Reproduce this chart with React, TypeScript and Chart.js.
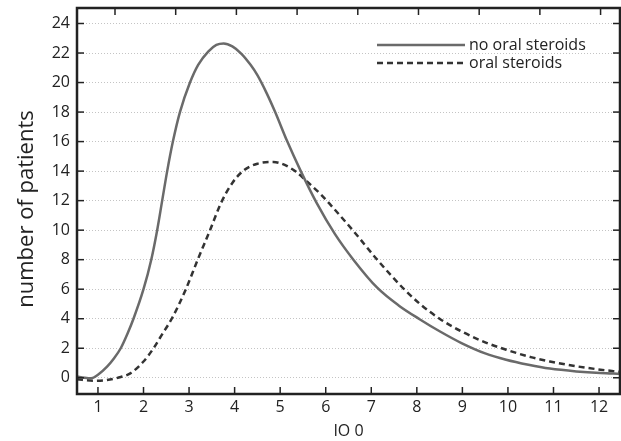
import { useEffect, useRef } from "react";
import { Chart, registerables } from "chart.js";

Chart.register(...registerables);

// ---- data ----
const seriesLabels = ["no oral steroids", "oral steroids"];
const xTitle = "IO 0";
const yTitle = "number of patients";

const xNoSteroids = [0.54, 0.7, 0.85, 1.0, 1.2, 1.35, 1.5, 1.65, 1.78, 2.0, 2.17, 2.3, 2.41, 2.52, 2.645, 2.8, 3.02, 3.2, 3.42, 3.6, 3.76, 3.95, 4.15, 4.35, 4.5, 4.7, 4.89, 5.15, 5.46, 5.8, 6.2, 6.62, 7.13, 7.6, 8.07, 8.5, 8.98, 9.5, 9.96, 10.45, 10.92, 11.5, 12.03, 12.46];
const yNoSteroids = [0.08, 0.0, -0.04, 0.2, 0.75, 1.3, 2.0, 3.0, 4.0, 6.0, 8.0, 10.0, 12.0, 14.0, 16.0, 18.0, 20.0, 21.2, 22.1, 22.55, 22.65, 22.45, 21.95, 21.2, 20.5, 19.3, 18.0, 16.05, 13.95, 11.85, 9.75, 7.95, 6.1, 4.9, 3.95, 3.15, 2.35, 1.65, 1.22, 0.88, 0.62, 0.43, 0.32, 0.27];

const xSteroids = [0.54, 0.9, 1.2, 1.5, 1.71, 2.0, 2.22, 2.42, 2.62, 2.93, 3.19, 3.46, 3.71, 3.95, 4.2, 4.5, 4.85, 5.1, 5.35, 5.57, 5.9, 6.11, 6.62, 7.13, 7.72, 8.07, 8.5, 8.98, 9.5, 9.96, 10.5, 10.92, 11.5, 12.03, 12.46];
const ySteroids = [-0.1, -0.2, -0.15, 0.05, 0.3, 1.1, 2.0, 3.0, 4.0, 6.0, 8.0, 10.0, 11.9, 13.2, 14.05, 14.5, 14.62, 14.42, 13.95, 13.35, 12.4, 11.7, 9.9, 8.0, 6.0, 5.0, 4.0, 3.14, 2.4, 1.9, 1.4, 1.1, 0.78, 0.55, 0.4];

const FONT = "'Open Sans', Lato, sans-serif";
const INK = "#222";

const toPoints = (xs: number[], ys: number[]) => xs.map((x, i) => ({ x, y: ys[i] }));

const framePlugin = {
  id: "frame",
  afterDatasetsDraw(chart: any) {
    const { ctx, chartArea: a, scales } = chart;
    ctx.save();
    const L = 7;
    ctx.strokeStyle = INK;
    ctx.lineWidth = 1.5;
    const seg = (x1: number, y1: number, x2: number, y2: number) => {
      ctx.beginPath();
      ctx.moveTo(x1, y1);
      ctx.lineTo(x2, y2);
      ctx.stroke();
    };
    scales.x.ticks.forEach((t: any) => {
      const px = scales.x.getPixelForValue(t.value);
      seg(px, a.bottom, px, a.bottom - L);
    });
    scales.x2.ticks.forEach((t: any) => {
      const px = scales.x2.getPixelForValue(t.value);
      seg(px, a.top, px, a.top + L);
    });
    scales.y.ticks.forEach((t: any) => {
      const py = scales.y.getPixelForValue(t.value);
      seg(a.left, py, a.left + L, py);
      seg(a.right, py, a.right - L, py);
    });
    ctx.lineWidth = 2.5;
    ctx.strokeRect(a.left, a.top, a.right - a.left, a.bottom - a.top);

    // legend
    const lx0 = a.left + 300;
    const lx1 = a.left + 388;
    const rows = [a.top + 37, a.top + 55];
    ctx.font = `16px ${FONT}`;
    ctx.textBaseline = "middle";
    ctx.textAlign = "left";
    chart.data.datasets.forEach((ds: any, i: number) => {
      const y = rows[i];
      ctx.strokeStyle = ds.borderColor;
      ctx.lineWidth = ds.borderWidth;
      ctx.setLineDash(ds.borderDash || []);
      seg(lx0, y, lx1, y);
      ctx.setLineDash([]);
      ctx.fillStyle = INK;
      ctx.fillText(ds.label, lx1 + 4, y);
    });

    // y axis title
    ctx.translate(33, (a.top + a.bottom) / 2 + 8);
    ctx.rotate(-Math.PI / 2);
    ctx.font = `22px ${FONT}`;
    ctx.textAlign = "center";
    ctx.textBaseline = "alphabetic";
    ctx.fillStyle = INK;
    ctx.fillText(yTitle, 0, 0);
    ctx.restore();
  },
};

export default function App() {
  const ref = useRef<HTMLCanvasElement | null>(null);
  useEffect(() => {
    if (!ref.current) return;
    const chart = new Chart(ref.current, {
      type: "line",
      data: {
        datasets: [
          {
            label: seriesLabels[0],
            data: toPoints(xNoSteroids, yNoSteroids),
            borderColor: "#6a6a6a",
            borderWidth: 2.5,
            pointRadius: 0,
            cubicInterpolationMode: "monotone",
            fill: false,
          },
          {
            label: seriesLabels[1],
            data: toPoints(xSteroids, ySteroids),
            borderColor: "#333333",
            borderWidth: 2.5,
            borderDash: [6, 4],
            pointRadius: 0,
            cubicInterpolationMode: "monotone",
            fill: false,
          },
        ],
      },
      options: {
        animation: false,
        responsive: false,
        devicePixelRatio: 1,
        layout: { padding: { top: 8, right: 1, left: 0, bottom: 0 } },
        plugins: { legend: { display: false }, tooltip: { enabled: false } },
        scales: {
          x: {
            type: "linear",
            position: "bottom",
            min: 0.54,
            max: 12.46,
            afterFit: (s: any) => {
              s.height = 47;
              s.paddingLeft = 0;
              s.paddingRight = 0;
            },
            ticks: {
              stepSize: 1,
              includeBounds: false,
              padding: 4,
              color: INK,
              font: { family: FONT, size: 16 },
            },
            grid: { display: false, drawTicks: false },
            border: { display: false },
            title: {
              display: true,
              text: xTitle,
              color: INK,
              font: { family: FONT, size: 16 },
              padding: { top: 0, bottom: 0 },
            },
          },
          x2: {
            type: "linear",
            position: "top",
            min: -0.626,
            max: 8.32,
            afterFit: (s: any) => {
              s.height = 0;
              s.paddingLeft = 0;
              s.paddingRight = 0;
            },
            ticks: { stepSize: 1, includeBounds: false, display: false },
            grid: { display: false, drawTicks: false },
            border: { display: false },
          },
          y: {
            type: "linear",
            min: -1.1,
            max: 25.05,
            afterFit: (s: any) => {
              s.width = 77;
              s.paddingTop = 0;
              s.paddingBottom = 0;
            },
            ticks: {
              stepSize: 2,
              includeBounds: false,
              padding: 7,
              color: INK,
              font: { family: FONT, size: 16 },
            },
            grid: { color: "#c4c4c4", lineWidth: 1, drawTicks: false },
            border: { display: false, dash: [1, 2] },
            title: { display: false },
          },
        },
      },
      plugins: [framePlugin],
    } as any);
    return () => chart.destroy();
  }, []);
  return (
    <div style={{ position: "fixed", left: 0, top: 0, width: 621, height: 441, background: "#fff" }}>
      <canvas ref={ref} width={621} height={441} style={{ display: "block" }} />
    </div>
  );
}
